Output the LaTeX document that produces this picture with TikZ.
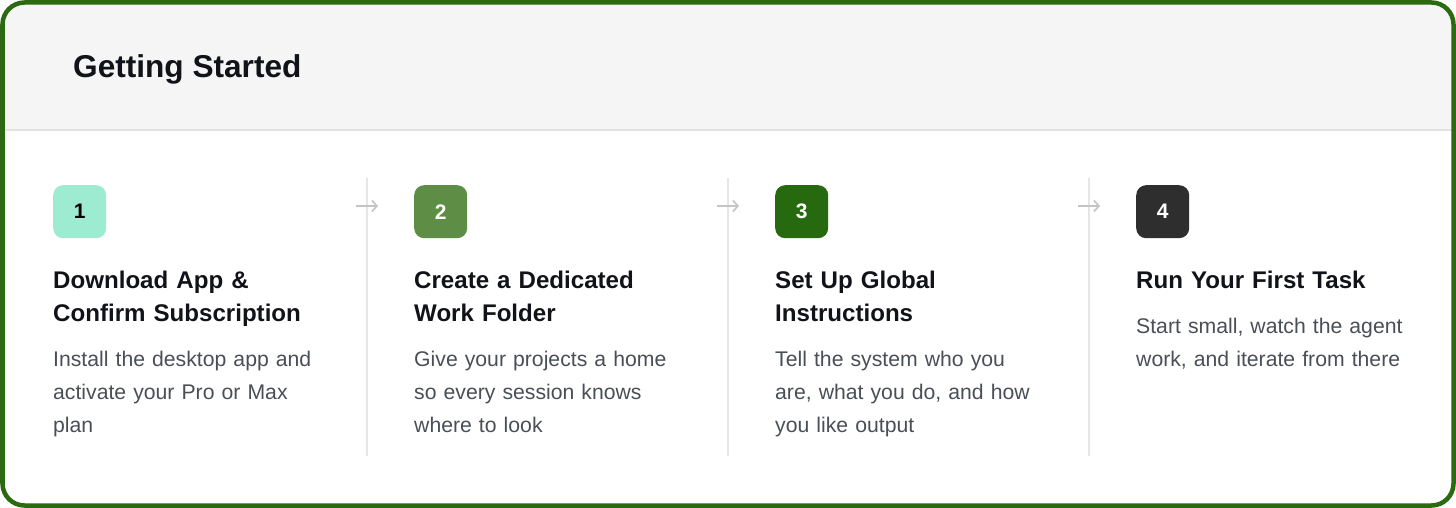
\documentclass[tikz,border=0pt]{standalone}
\usepackage{fontspec}
\setmainfont{Liberation Sans}
\usetikzlibrary{arrows.meta}
\definecolor{frame}{HTML}{2B6A10}
\definecolor{headbg}{HTML}{F5F5F5}
\definecolor{headline}{HTML}{E2E2E2}
\definecolor{divider}{HTML}{E6E6E6}
\definecolor{arrowc}{HTML}{C4C4C4}
\definecolor{titlec}{HTML}{111318}
\definecolor{bodyc}{HTML}{4A4F57}
\definecolor{badgeA}{HTML}{9DEBD0}
\definecolor{badgeB}{HTML}{5E8E45}
\definecolor{badgeC}{HTML}{27690E}
\definecolor{badgeD}{HTML}{2E2E2E}
\tikzset{
  badge/.style={rounded corners=10pt, minimum width=53pt, minimum height=53pt, inner sep=0pt,
    font=\fontsize{21}{24}\selectfont\bfseries, anchor=north west},
  stephead/.style={anchor=base west, inner sep=0pt, text width=320pt, align=left,
    text=titlec, font=\fontsize{24.1}{33}\selectfont\bfseries},
  stepbody/.style={anchor=base west, inner sep=0pt, text width=320pt, align=left,
    text=bodyc, font=\fontsize{21.2}{33}\selectfont},
  divline/.style={draw=divider, line width=1.2pt},
  flowarrow/.style={draw=arrowc, line width=1.6pt, -{Straight Barb[length=5pt,width=11pt]}}
}
\begin{document}
\begin{tikzpicture}[x=1pt,y=-1pt]
\useasboundingbox (0,0) rectangle (1456,508);
% header background
\begin{scope}
  \clip[rounded corners=22pt] (2,2) rectangle (1454,506);
  \fill[white] (0,0) rectangle (1456,508);
  \fill[headbg] (0,0) rectangle (1456,130);
  \draw[headline, line width=1.5pt] (0,130) -- (1456,130);
\end{scope}
\draw[frame, line width=4.5pt, rounded corners=22pt] (2.5,2.5) rectangle (1453.5,505.5);
% title
\node[anchor=base west, inner sep=0pt, text=titlec, font=\fontsize{31.6}{36}\selectfont\bfseries] (title) at (73,78) {Getting Started};
% dividers
\foreach \x/\n in {367/1,728/2,1089/3}{
  \coordinate (dtop\n) at (\x,178);
  \coordinate (dbot\n) at (\x,456);
  \draw[divline] (dtop\n) -- (dbot\n);
  \coordinate (as\n) at (\x-11,206);
  \coordinate (ae\n) at (\x+11,206);
  \draw[flowarrow] (as\n) -- (ae\n);
}
% badges
\node[badge, fill=badgeA, text=black] (b1) at (53,185) {1};
\node[badge, fill=badgeB, text=white] (b2) at (414,185) {2};
\node[badge, fill=badgeC, text=white] (b3) at (775,185) {3};
\node[badge, fill=badgeD, text=white] (b4) at (1136,185) {4};
% headings
\node[stephead] (h1) at (53,288) {Download App \&\\Confirm Subscription};
\node[stephead] (h2) at (414,288) {Create a Dedicated\\Work Folder};
\node[stephead] (h3) at (775,288) {Set Up Global\\Instructions};
\node[stephead] (h4) at (1136,288) {Run Your First Task};
% bodies
\node[stepbody] (t1) at (53,366) {Install the desktop app and\\activate your Pro or Max\\plan};
\node[stepbody] (t2) at (414,366) {Give your projects a home\\so every session knows\\where to look};
\node[stepbody] (t3) at (775,366) {Tell the system who you\\are, what you do, and how\\you like output};
\node[stepbody] (t4) at (1136,333) {Start small, watch the agent\\work, and iterate from there};
\end{tikzpicture}
\end{document}
